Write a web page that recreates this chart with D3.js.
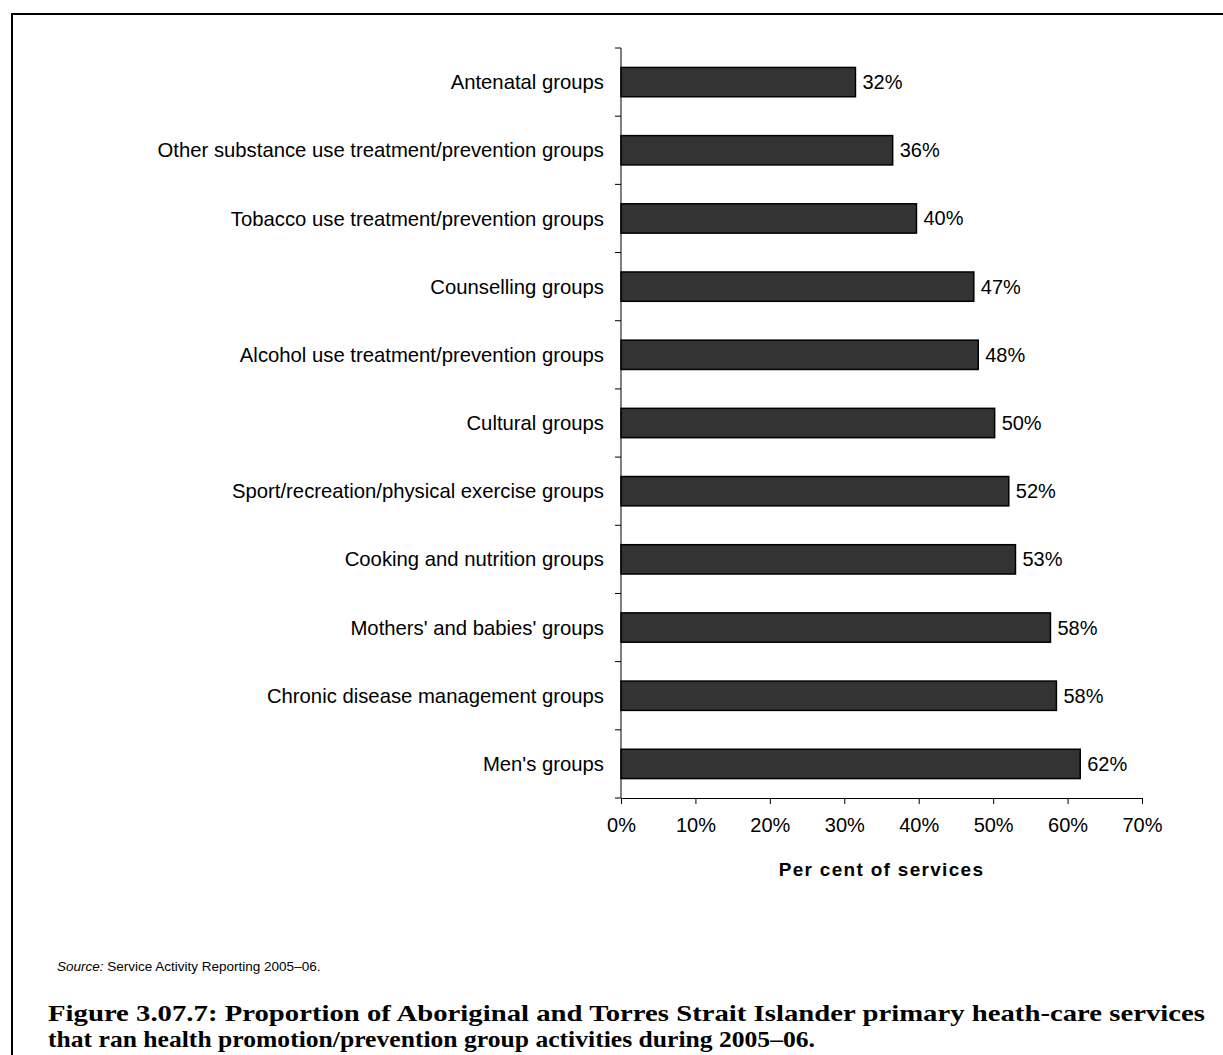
<!DOCTYPE html>
<html><head><meta charset="utf-8">
<script src="https://cdn.jsdelivr.net/npm/d3@7"></script>
<style>body{margin:0;background:#fff;} svg{display:block;}</style>
</head><body>
<svg id="c" width="1223" height="1055"></svg>
<script>
const categories = ["Antenatal groups","Other substance use treatment/prevention groups","Tobacco use treatment/prevention groups","Counselling groups","Alcohol use treatment/prevention groups","Cultural groups","Sport/recreation/physical exercise groups","Cooking and nutrition groups","Mothers' and babies' groups","Chronic disease management groups","Men's groups"];
const values = [31.5, 36.5, 39.7, 47.4, 48.0, 50.2, 52.1, 53.0, 57.7, 58.5, 61.7];
const valueLabels = ["32%","36%","40%","47%","48%","50%","52%","53%","58%","58%","62%"];
const xTicks = [0,10,20,30,40,50,60,70];
const xTitle = "Per cent of services";
const sourceLabel = "Source:";
const sourceText = " Service Activity Reporting 2005\u201306.";
const captionLines = ["Figure 3.07.7: Proportion of Aboriginal and Torres Strait Islander primary heath-care services","that ran health promotion/prevention group activities during 2005\u201306."];

const svg = d3.select("#c");
// frame
svg.append("path").attr("d","M12,1055 L12,14 L1223,14").attr("fill","none").attr("stroke","#000").attr("stroke-width",2);

const x0 = 621, x1 = 1142, yTop = 48, yBot = 798;
const x = d3.scaleLinear().domain([0,70]).range([x0,x1]);
const y = d3.scaleBand().domain(categories).range([yTop,yBot]).paddingInner(0.57).paddingOuter(0.285);
const font = "'Liberation Sans', Arial, sans-serif";
const fs = 20;

// bars
svg.append("g").selectAll("rect").data(categories).join("rect")
  .attr("x", x(0)).attr("y", d=>y(d))
  .attr("width", (d,i)=>x(values[i])-x(0)).attr("height", y.bandwidth())
  .attr("fill","#333333").attr("stroke","#000").attr("stroke-width",1.5);

// value labels
svg.append("g").selectAll("text").data(categories).join("text")
  .attr("x",(d,i)=>x(values[i])+7).attr("y",d=>y(d)+y.bandwidth()/2)
  .attr("dy","0.35em").attr("font-family",font).attr("font-size",fs).attr("fill","#000")
  .text((d,i)=>valueLabels[i]);

// y axis
const step = (yBot-yTop)/categories.length;
const yAxisG = svg.append("g");
yAxisG.append("line").attr("x1",x0).attr("x2",x0).attr("y1",yTop).attr("y2",yBot).attr("stroke","#000").attr("stroke-width",1);
yAxisG.selectAll("line.t").data(d3.range(categories.length+1)).join("line").attr("class","t")
  .attr("x1",x0-6).attr("x2",x0).attr("y1",i=>yTop+i*step).attr("y2",i=>yTop+i*step).attr("stroke","#000");
yAxisG.selectAll("text").data(categories).join("text")
  .attr("x",x0-17).attr("y",d=>y(d)+y.bandwidth()/2).attr("dy","0.35em")
  .attr("text-anchor","end").attr("font-family",font).attr("font-size",20.3).attr("fill","#000").text(d=>d);

// x axis
const xAxis = d3.axisBottom(x).tickValues(xTicks).tickFormat(d=>d+"%").tickSizeOuter(0).tickSize(6).tickPadding(14);
const xg = svg.append("g").attr("transform",`translate(0,${yBot})`).call(xAxis);
xg.select(".domain").attr("stroke","#000");
xg.selectAll(".tick line").attr("stroke","#000");
xg.selectAll(".tick text").attr("font-family",font).attr("font-size",fs).attr("fill","#000");

svg.append("text").attr("x",(x0+x1)/2).attr("y",876).attr("text-anchor","middle")
  .attr("font-family",font).attr("font-size",19).attr("font-weight","bold").attr("letter-spacing","1.3px").text(xTitle);

// source
const src = svg.append("text").attr("x",57).attr("y",971).attr("font-family",font).attr("font-size",13.5);
src.append("tspan").attr("font-style","italic").text(sourceLabel);
src.append("tspan").text(sourceText);

// caption
const capLen = [1157, 767];
svg.append("g").selectAll("text").data(captionLines).join("text")
  .attr("x",48).attr("y",(d,i)=>1021+i*26)
  .attr("font-family","'Liberation Serif', serif").attr("font-weight","bold").attr("font-size",23).attr("fill","#000")
  .attr("textLength",(d,i)=>capLen[i]).attr("lengthAdjust","spacingAndGlyphs")
  .text(d=>d);
</script>
</body></html>
